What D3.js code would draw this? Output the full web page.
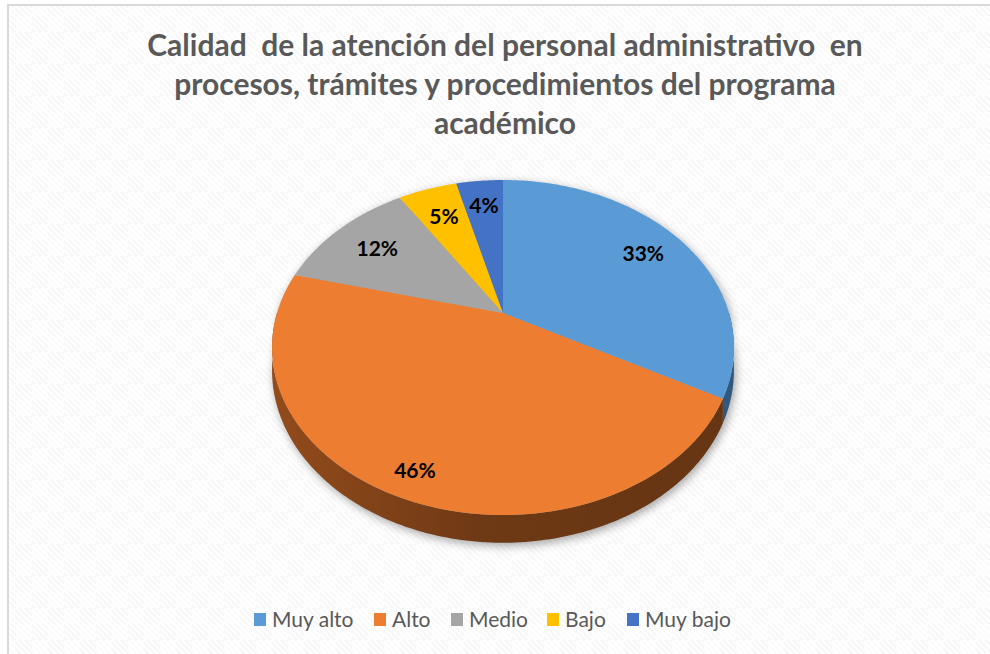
<!DOCTYPE html>
<html>
<head>
<meta charset="utf-8">
<script src="https://cdn.jsdelivr.net/npm/d3@7"></script>
<style>
  body { margin: 0; background: #fff; }
  svg { display: block; }
  .title { white-space: pre; }
</style>
</head>
<body>
<div id="chart"></div>
<script>
// Data.
const categories = ["Muy alto", "Alto", "Medio", "Bajo", "Muy bajo"];
const values = [33, 46, 12, 5, 4];
const colors = ["#5B9BD5", "#ED7D31", "#A5A5A5", "#FFC000", "#4472C4"];
const sideColors = ["#3a6a98", "#7a3f17", "#6e6e6e", "#a07800", "#2c4f8c"];
const titleLines = [
  "Calidad  de la atención del personal administrativo  en",
  "procesos, trámites y procedimientos del programa",
  "académico"
];

// Size and layout.
const width = 990;
const height = 654;
const cx = 503, cy = 313;      // projected centre of the pie
const A = 226, B = 160.4;      // horizontal / vertical radius factors
const p = 0.206;               // perspective strength
const depth = 22;              // thickness of the pie
const labelR = [0.78, 0.88, 0.75, 0.75, 0.78];

const svg = d3.select("#chart")
  .append("svg")
  .attr("width", width)
  .attr("height", height);

const defs = svg.append("defs");

// Background pattern: faint checker with diagonal stripes.
const pat = defs.append("pattern")
  .attr("id", "bg")
  .attr("patternUnits", "userSpaceOnUse")
  .attr("width", 32).attr("height", 32);
pat.append("rect").attr("width", 32).attr("height", 32).attr("fill", "#f7f7f7");
pat.append("rect").attr("width", 16).attr("height", 16).attr("fill", "#fbfbfb");
pat.append("rect").attr("x", 16).attr("y", 16).attr("width", 16).attr("height", 16).attr("fill", "#fbfbfb");
for (let k = -32; k <= 32; k += 6) {
  pat.append("line")
    .attr("x1", k).attr("y1", 0)
    .attr("x2", k + 32).attr("y2", 32)
    .attr("stroke", "#ffffff")
    .attr("stroke-width", 2);
}

svg.append("rect")
  .attr("x", 8).attr("y", 5)
  .attr("width", 1000).attr("height", 700)
  .attr("fill", "url(#bg)")
  .attr("stroke", "#d9d9d9")
  .attr("stroke-width", 2);

// Title.
svg.append("text")
  .attr("class", "title")
  .attr("x", 505)
  .attr("text-anchor", "middle")
  .attr("font-family", "Lato, 'Open Sans', sans-serif")
  .attr("font-weight", "bold")
  .attr("font-size", 30)
  .attr("fill", "#595959")
  .selectAll("tspan")
  .data(titleLines)
  .enter()
  .append("tspan")
  .attr("x", 505)
  .attr("y", function(d, i) { return 56 + i * 39; })
  .text(function(d) { return d; });

// Perspective projection of a point on the pie disc.
function proj(theta, r, dz) {
  const u = r * Math.sin(theta), v = r * Math.cos(theta);
  const w = 1 + p * v;
  return [cx + A * u / w, cy - B * v / w + (dz || 0) / w];
}

function arcPoints(a0, a1, dz) {
  const n = Math.max(2, Math.ceil((a1 - a0) / (Math.PI / 180)));
  return d3.range(n + 1).map(function(i) { return proj(a0 + (a1 - a0) * i / n, 1, dz); });
}

const pie = d3.pie().sort(null).value(function(d) { return d; });
const arcs = pie(values);

// Gradient for the side walls.
arcs.forEach(function(d, i) {
  const g = defs.append("linearGradient")
    .attr("id", "side" + i)
    .attr("gradientUnits", "userSpaceOnUse")
    .attr("x1", cx - A).attr("x2", cx + A)
    .attr("y1", 0).attr("y2", 0);
  const c = d3.color(sideColors[i]);
  g.append("stop").attr("offset", 0).attr("stop-color", c.brighter(0.5));
  g.append("stop").attr("offset", 0.45).attr("stop-color", c.darker(0.3));
  g.append("stop").attr("offset", 1).attr("stop-color", c.darker(0.5));
});

// Soft shadow.
const f = defs.append("filter").attr("id", "shadow")
  .attr("x", "-20%").attr("y", "-20%").attr("width", "140%").attr("height", "140%");
f.append("feGaussianBlur").attr("stdDeviation", 5);

const line = d3.line();
svg.append("path")
  .attr("d", line(arcPoints(Math.PI / 2, 3 * Math.PI / 2, depth).concat(arcPoints(-Math.PI / 2, Math.PI / 2, 0))) + "Z")
  .attr("transform", "translate(2,3)")
  .attr("fill", "#000")
  .attr("opacity", 0.35)
  .attr("filter", "url(#shadow)");

// Side walls (front half only).
svg.append("g")
  .selectAll("path")
  .data(arcs)
  .enter()
  .append("path")
  .attr("d", function(d) {
    const lo = Math.max(d.startAngle, Math.PI / 2);
    const hi = Math.min(d.endAngle, 3 * Math.PI / 2);
    if (hi <= lo) return null;
    const pts = arcPoints(lo, hi, 0).concat(arcPoints(lo, hi, depth).reverse());
    return line(pts) + "Z";
  })
  .attr("fill", function(d, i) { return "url(#side" + i + ")"; });

// Top faces.
svg.append("g")
  .selectAll("path")
  .data(arcs)
  .enter()
  .append("path")
  .attr("d", function(d) {
    return line([[cx, cy]].concat(arcPoints(d.startAngle, d.endAngle, 0))) + "Z";
  })
  .attr("fill", function(d, i) { return colors[i]; });

// Data labels.
svg.append("g")
  .selectAll("text")
  .data(arcs)
  .enter()
  .append("text")
  .attr("x", function(d, i) { return proj((d.startAngle + d.endAngle) / 2, labelR[i])[0]; })
  .attr("y", function(d, i) { return proj((d.startAngle + d.endAngle) / 2, labelR[i])[1]; })
  .attr("dy", "0.35em")
  .attr("text-anchor", "middle")
  .attr("font-family", "Lato, 'Open Sans', sans-serif")
  .attr("font-weight", "bold")
  .attr("font-size", 21)
  .attr("fill", "#000")
  .text(function(d) { return d.data + "%"; });

// Legend.
const legendX = [254, 374, 451, 547, 627];
const legend = svg.append("g")
  .selectAll("g")
  .data(categories)
  .enter()
  .append("g")
  .attr("transform", function(d, i) { return "translate(" + legendX[i] + ",620)"; });

legend.append("rect")
  .attr("x", 0).attr("y", -7)
  .attr("width", 12).attr("height", 13)
  .attr("fill", function(d, i) { return colors[i]; });

legend.append("text")
  .attr("x", 18)
  .attr("y", 0)
  .attr("dy", "0.35em")
  .attr("font-family", "Lato, 'Open Sans', sans-serif")
  .attr("font-size", 21)
  .attr("fill", "#595959")
  .text(function(d) { return d; });
</script>
</body>
</html>
